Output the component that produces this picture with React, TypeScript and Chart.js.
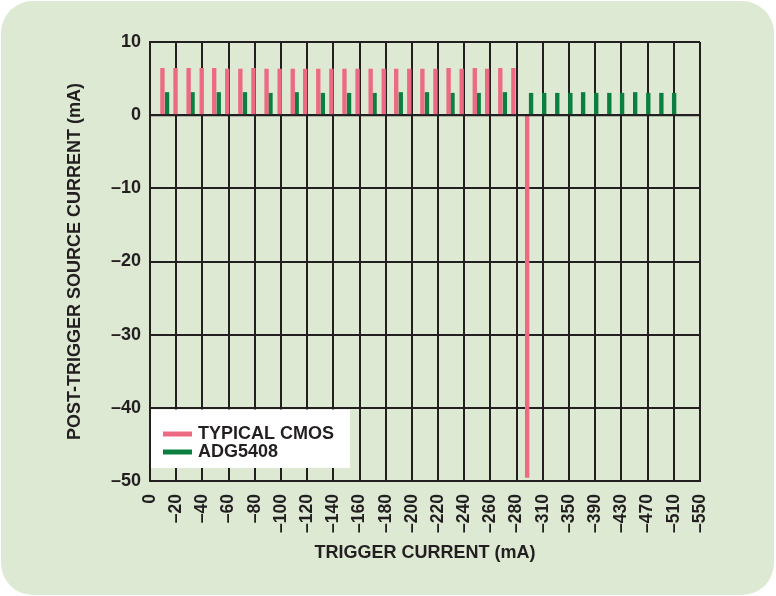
import React, { useEffect, useRef } from "react";
import { Chart, registerables } from "chart.js";

Chart.register(...registerables);

// X-axis tick values (mA) and their printed labels (equally spaced on the axis)
const xTickValues = [0, -20, -40, -60, -80, -100, -120, -140, -160, -180, -200, -220, -240, -260, -280, -310, -350, -390, -430, -470, -510, -550];
const xTickLabels = xTickValues.map((v) => (v === 0 ? "0" : "\u2013" + Math.abs(v)));

// Y-axis range (mA)
const yMin = -50;
const yMax = 10;
const yStep = 10;

// TYPICAL CMOS series: trigger current (mA) and post-trigger source current (mA)
const cmosCurrents = [-9.5, -19.5, -29.5, -39.5, -49, -59, -69, -79, -89, -99, -109, -118.5, -128.5, -138.5, -148.5, -158.5, -168.5, -178.5, -188, -198, -208, -218, -228, -238, -248, -257.5, -267.5, -277.5, -292];
const cmosValues = [6.4, 6.4, 6.4, 6.4, 6.4, 6.3, 6.3, 6.4, 6.3, 6.3, 6.3, 6.3, 6.3, 6.3, 6.3, 6.3, 6.3, 6.3, 6.3, 6.3, 6.3, 6.3, 6.4, 6.3, 6.4, 6.3, 6.4, 6.4, -49.5];

// ADG5408 series
const adgCurrents = [-13, -32.5, -52.5, -72.5, -92, -112, -132, -152, -171.5, -191.5, -211.5, -231, -251, -271, -296.5, -312, -332, -352, -371.5, -391.5, -411.5, -431, -451, -471, -491, -510.5];
const adgValues = [3.1, 3.1, 3.1, 3.1, 3.0, 3.1, 3.0, 3.0, 3.0, 3.1, 3.1, 3.0, 3.0, 3.1, 3.0, 3.0, 3.0, 3.0, 3.1, 3.0, 3.0, 3.0, 3.1, 3.0, 3.0, 3.0];

const seriesNames = ["TYPICAL CMOS", "ADG5408"];
const xTitle = "TRIGGER CURRENT (mA)";
const yTitle = "POST-TRIGGER SOURCE CURRENT (mA)";

const PINK = "#ec6a82";
const GREEN = "#0b7f3f";
const INK = "#231f20";
const FONT = "'Liberation Sans', Arial, Helvetica, sans-serif";

// Map a current in mA to the position on the (non-uniform) tick axis
function toAxis(mA: number): number {
  for (let i = 0; i < xTickValues.length - 1; i++) {
    const a = xTickValues[i];
    const b = xTickValues[i + 1];
    if (mA <= a && mA >= b) return i + (a - mA) / (a - b);
  }
  return mA > 0 ? 0 : xTickValues.length - 1;
}

const insideLegend = {
  id: "insideLegend",
  afterDatasetsDraw(chart: any) {
    const { ctx, chartArea, scales } = chart;
    ctx.save();
    // redraw zero line on top of bars
    const y0 = scales.y.getPixelForValue(0);
    ctx.strokeStyle = INK;
    ctx.lineWidth = 2;
    ctx.beginPath();
    ctx.moveTo(chartArea.left, y0);
    ctx.lineTo(chartArea.right, y0);
    ctx.stroke();

    // legend box
    const left = chartArea.left;
    const bottom = chartArea.bottom;
    ctx.fillStyle = "#ffffff";
    ctx.fillRect(left + 1, bottom - 71.5, 199, 58.5);
    const items = chart.data.datasets.map((d: any) => ({ label: d.label, color: d.backgroundColor }));
    const ys = [bottom - 47, bottom - 29];
    items.forEach((it: any, i: number) => {
      ctx.strokeStyle = it.color;
      ctx.lineWidth = 5;
      ctx.beginPath();
      ctx.moveTo(left + 13, ys[i]);
      ctx.lineTo(left + 42, ys[i]);
      ctx.stroke();
      ctx.fillStyle = INK;
      ctx.font = `bold 18px ${FONT}`;
      ctx.textBaseline = "middle";
      ctx.textAlign = "left";
      ctx.fillText(it.label, left + 48, ys[i] + 0.5);
    });
    ctx.restore();
  },
};

export default function App() {
  const ref = useRef<HTMLCanvasElement | null>(null);

  useEffect(() => {
    if (!ref.current) return;
    const chart = new Chart(ref.current, {
      type: "bar",
      data: {
        datasets: [
          {
            label: seriesNames[0],
            data: cmosCurrents.map((c, i) => ({ x: toAxis(c), y: cmosValues[i] })),
            backgroundColor: PINK,
            borderWidth: 0,
            barThickness: 3.7,
            grouped: false,
          } as any,
          {
            label: seriesNames[1],
            data: adgCurrents.map((c, i) => ({ x: toAxis(c), y: adgValues[i] })),
            backgroundColor: GREEN,
            borderWidth: 0,
            barThickness: 3.7,
            grouped: false,
          } as any,
        ],
      },
      options: {
        animation: false,
        responsive: false,
        devicePixelRatio: 1,
        layout: { padding: { top: 42, right: 76, bottom: 0, left: 0 } },
        plugins: {
          legend: { display: false },
          tooltip: { enabled: false },
        },
        scales: {
          x: {
            type: "linear",
            min: 0,
            max: xTickValues.length - 1,
            offset: false,
            grid: { offset: false, color: INK, lineWidth: 2, drawTicks: false },
            border: { color: INK, width: 2 },
            afterBuildTicks: (scale: any) => {
              scale.ticks = xTickValues.map((_, i) => ({ value: i }));
            },
            afterFit: (scale: any) => {
              scale.height = 115;
            },
            ticks: {
              autoSkip: false,
              maxRotation: 90,
              minRotation: 90,
              padding: 13,
              color: INK,
              font: { family: FONT, size: 17.5, weight: "bold" },
              callback: (v: any) => xTickLabels[Math.round(Number(v))],
            },
            title: {
              display: true,
              text: xTitle,
              color: INK,
              font: { family: FONT, size: 18, weight: "bold" },
              padding: { top: 0, bottom: 32 },
            },
          },
          y: {
            type: "linear",
            min: yMin,
            max: yMax,
            grid: { color: INK, lineWidth: 2, drawTicks: false },
            border: { color: INK, width: 2 },
            afterFit: (scale: any) => {
              scale.width = 150;
            },
            ticks: {
              stepSize: yStep,
              padding: 9,
              color: INK,
              font: { family: FONT, size: 18, weight: "bold" },
              callback: (v: any) => (Number(v) < 0 ? "\u2013" + Math.abs(Number(v)) : String(v)),
            },
            title: {
              display: true,
              text: yTitle,
              color: INK,
              font: { family: FONT, size: 18, weight: "bold" },
              padding: { top: 64, bottom: 0 },
            },
          },
        },
      } as any,
      plugins: [insideLegend],
    });
    return () => chart.destroy();
  }, []);

  return (
    <div style={{ position: "fixed", left: 0, top: 0, width: 776, height: 596, background: "#ffffff" }}>
      <div
        style={{
          position: "absolute",
          left: 1,
          top: 1,
          width: 773,
          height: 594,
          borderRadius: 32,
          background: "#dde9d3",
        }}
      />
      <canvas ref={ref} width={776} height={596} style={{ position: "absolute", left: 0, top: 0, width: 776, height: 596 }} />
    </div>
  );
}
